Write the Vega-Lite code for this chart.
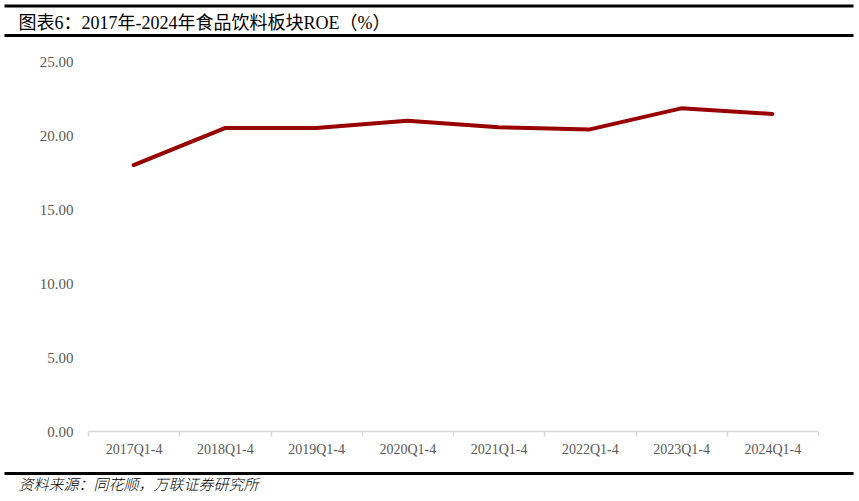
{
  "$schema": "https://vega.github.io/schema/vega-lite/v6.json",
  "autosize": {"type": "none"},
  "width": 730,
  "height": 370,
  "padding": {"left": 88, "top": 61, "right": 41, "bottom": 70},
  "background": "white",
  "config": {"view": {"stroke": null}},
  "resolve": {"scale": {"x": "independent"}, "axis": {"x": "independent"}},
  "layer": [
    {
      "data": {"values": [
        {"period": "2017Q1-4", "roe": 17.97},
        {"period": "2018Q1-4", "roe": 20.47},
        {"period": "2019Q1-4", "roe": 20.47},
        {"period": "2020Q1-4", "roe": 20.97},
        {"period": "2021Q1-4", "roe": 20.52},
        {"period": "2022Q1-4", "roe": 20.38},
        {"period": "2023Q1-4", "roe": 21.80},
        {"period": "2024Q1-4", "roe": 21.42}
      ]},
      "mark": {"type": "line", "color": "#990000", "strokeWidth": 4, "strokeCap": "round", "strokeJoin": "round"},
      "encoding": {
        "x": {
          "field": "period", "type": "ordinal", "sort": null,
          "scale": {"type": "band", "paddingInner": 0, "paddingOuter": 0},
          "axis": {
            "title": null, "orient": "bottom", "labelAngle": 0,
            "domainColor": "#d9d9d9", "domainWidth": 1.5,
            "tickColor": "#d9d9d9", "tickWidth": 1.5, "tickSize": 5, "tickBand": "extent",
            "labelFont": "Liberation Serif", "labelFontSize": 14, "labelColor": "#595959",
            "labelPadding": 6, "grid": false
          }
        },
        "y": {
          "field": "roe", "type": "quantitative",
          "scale": {"domain": [0, 25], "nice": false, "zero": true},
          "axis": {
            "title": null, "values": [0, 5, 10, 15, 20, 25], "format": ".2f",
            "domain": false, "ticks": false, "grid": false,
            "labelFont": "Liberation Serif", "labelFontSize": 15, "labelColor": "#595959",
            "labelPadding": 15
          }
        }
      }
    },
    {
      "data": {"values": []},
      "mark": {"type": "rule"},
      "encoding": {
        "x": {
          "field": "h", "type": "quantitative",
          "scale": {"domain": [0, 1], "range": [-84, 765]},
          "axis": {
            "orient": "top", "offset": 55.5, "domainColor": "#000000", "domainWidth": 3,
            "ticks": false, "labels": false, "grid": false, "title": null
          }
        }
      }
    },
    {
      "data": {"values": []},
      "mark": {"type": "rule"},
      "encoding": {
        "x": {
          "field": "h", "type": "quantitative",
          "scale": {"domain": [0, 1], "range": [-84, 765]},
          "axis": {
            "orient": "top", "offset": 26, "domainColor": "#000000", "domainWidth": 3,
            "ticks": false, "labels": false, "grid": false,
            "title": "图表6：2017年-2024年食品饮料板块ROE（%）",
            "titleFont": "Liberation Serif, Noto Sans CJK SC", "titleFontSize": 18, "titleFontWeight": "normal",
            "titleColor": "#000000", "titleAlign": "left", "titleX": -70, "titlePadding": 3
          }
        }
      }
    },
    {
      "data": {"values": []},
      "mark": {"type": "rule"},
      "encoding": {
        "x": {
          "field": "h", "type": "quantitative",
          "scale": {"domain": [0, 1], "range": [-84, 765]},
          "axis": {
            "orient": "bottom", "offset": 42, "domainColor": "#000000", "domainWidth": 3,
            "ticks": false, "labels": false, "grid": false,
            "title": "资料来源：同花顺，万联证券研究所",
            "titleFont": "Noto Sans CJK SC", "titleFontSize": 15, "titleFontWeight": 300,
            "titleFontStyle": "italic",
            "titleColor": "#000000", "titleAlign": "left", "titleX": -70, "titlePadding": 4
          }
        }
      }
    }
  ]
}
